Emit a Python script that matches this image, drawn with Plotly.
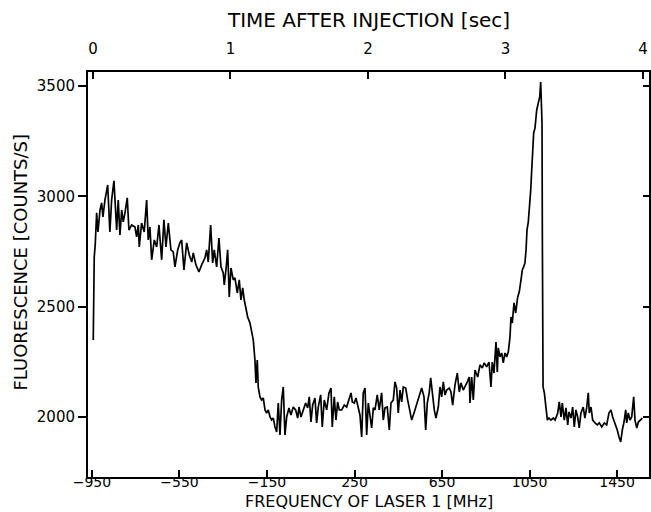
import plotly.graph_objects as go

# Fluorescence vs laser frequency
freq_mhz = [
    -944, -939.5, -935, -928.5, -922.6, -913, -905.7, -899.7, -890.6, -878, -868, -860, -849.4,
    -841.7, -837, -829.8, -822, -814, -807, -799, -788.6, -781, -768.5, -753.4, -745.7, -738,
    -733.8, -723, -711, -700, -692.6, -685, -677, -665, -654, -643.7, -631.4, -621, -611.7,
    -601, -589, -578.4, -570.6, -558, -548, -540, -529.5, -517, -505, -494, -487, -474.6, -461,
    -448.6, -433.5, -425.7, -418.4, -407.4, -398.3, -391, -380, -369.5, -360.3, -349.8, -345.3,
    -337.5, -329.7, -322.4, -314.6, -304, -296.3, -285.8, -276.7, -269, -261, -253.8, -246,
    -238.3, -227.8, -220, -212.7, -205, -200.4, -194.4, -190, -182, -174.3, -167, -159, -151.4,
    -144, -136, -128.6, -121, -113.5, -105.7, -98.4, -90.6, -83, -75.6, -67.8, -60, -49.5,
    -40.4, -30, -19, -9.7, -3.8, 5.4, 16, 26.8, 36, 43.3, 51, 58.8, 69.3, 77, 84.4, 95.4, 102.7,
    111.8, 122.8, 133.3, 142.5, 148.4, 157.5, 165.3, 173, 180.4, 191.4, 203.3, 214.2, 224.8,
    234, 240, 249, 256.8, 264.5, 275, 282.8, 290, 298, 305.7, 313, 320, 328.5, 336, 343.6, 354,
    363, 374, 381.5, 389.3, 399.8, 409, 416.7, 427.3, 435, 442.8, 450, 458, 465.6, 473, 484,
    493, 500.4, 511.4, 522, 534, 546, 557, 567.6, 575.4, 582.7, 591.8, 598.3, 607.4, 614.7,
    622.4, 633, 640.7, 648.5, 655.8, 663.6, 671.4, 683.2, 691, 698.8, 709.3, 719.8, 729, 736.7,
    747.2, 755, 765.5, 774.6, 777.8, 785.6, 793, 800.7, 813, 823.5, 834, 843, 854, 864.7,
    873.8, 879.7, 887.5, 896.7, 902.6, 907, 915, 922.6, 930, 937.8, 945.5, 953, 960.7, 965.3,
    971.2, 979, 986.7, 995.9, 1003, 1011, 1017, 1023, 1029, 1034, 1038.4, 1044.4, 1049, 1055.5,
    1060, 1064.6, 1069, 1075, 1082.9, 1090, 1096.6, 1101, 1104, 1107, 1108.6, 1110.4, 1111.8,
    1117.7, 1124, 1131.5, 1139, 1148, 1158.8, 1166.5, 1178.8, 1186, 1193.8, 1199.7, 1208.9,
    1216.6, 1224.4, 1230.3, 1239.5, 1247, 1254.5, 1262, 1270, 1277, 1285, 1295.5, 1303, 1311,
    1318.5, 1323, 1330.9, 1338.6, 1349, 1359.7, 1368.8, 1379.8, 1391.6, 1402.6, 1413, 1422,
    1430, 1440.6, 1451, 1458.9, 1466.6, 1474, 1481.8, 1489.6, 1494, 1501.4, 1509, 1517, 1526,
    1532, 1540, 1547.4, 1555, 1565.6,
]

counts_per_s = [
    2349, 2725, 2779, 2925, 2838, 2938, 2970, 2906, 2983, 3051, 2838, 2983, 3070,
    2952, 2847, 2983, 2825, 2938, 2884, 2925, 2993, 2847, 2870, 2861, 2816, 2870,
    2770, 2879, 2838, 2983, 2802, 2861, 2712, 2802, 2770, 2870, 2712, 2893, 2770,
    2879, 2757, 2748, 2680, 2757, 2789, 2802, 2666, 2789, 2734, 2702, 2743, 2689, 2657,
    2689, 2721, 2757, 2702, 2870, 2698, 2757, 2680, 2811, 2680, 2653, 2598,
    2666, 2757, 2544, 2675, 2621, 2630, 2562, 2621, 2530, 2585, 2530, 2498,
    2453, 2426, 2385, 2349, 2258, 2154, 2258, 2136, 2091, 2077, 2086, 2032, 2018,
    2032, 2000, 1986, 1995, 1955, 1932, 2063, 1918, 2077, 2136, 1918, 2000, 2041,
    2009, 2045, 2032, 1995, 2045, 2000, 2032, 2063, 2041, 2091, 1977, 2054, 2086, 1973, 2045, 2100, 1955,
    2077, 2032, 2109, 2131, 1955, 2091, 1986, 2068, 2032, 2032, 2054, 2045, 2077,
    2109, 2068, 2063, 2086, 2054, 2009, 1909, 2109, 2131, 1918, 2063, 2018, 1950, 2041, 2032, 2100,
    2032, 2109, 1986, 2041, 2045, 1941, 2063, 2077, 2159, 2131, 2018, 2122, 2068, 2136, 2131,
    2077, 2032, 1986, 2018, 2054, 2100, 2131, 2091, 1941, 2063, 2113, 2177, 2091, 2032,
    1995, 2045, 2136, 2091, 2159, 2100, 2122, 2131, 2113, 2054, 2145, 2199, 2113, 2154,
    2122, 2136, 2159, 2181, 2063, 2181, 2077, 2213, 2181, 2236, 2222, 2245, 2227, 2249,
    2136, 2249, 2199, 2340, 2204, 2313, 2272, 2290, 2245, 2290, 2272, 2295, 2363, 2453,
    2426, 2517, 2471, 2544, 2566, 2621, 2666, 2680, 2698, 2757, 2847, 2884, 2938, 3029,
    3119, 3196, 3287, 3310, 3391, 3423, 3450, 3518, 3437, 3332, 2816, 2363, 2136,
    2109, 2045, 1986, 1995, 1986, 1995, 1986, 2018, 2068, 2000, 2063, 1986,
    2041, 1964, 2023, 1995, 2045, 1955, 2032, 2000, 1950, 2018, 2045, 1995, 2041,
    2109, 2018, 2045, 1986, 1973, 1964, 1973, 1955, 1973, 1964, 2018, 2032,
    2000, 1973, 1941, 1909, 1887, 1941, 1977, 2032, 1973, 2018, 1986, 2000, 2091,
    1986, 1950, 1977, 1986, 1995,
]

freq_ticks = [-950, -550, -150, 250, 650, 1050, 1450]
time_ticks = [0, 1, 2, 3, 4]
count_ticks = [2000, 2500, 3000, 3500]

FREQ_RANGE = [-968, 1596]
TIME_RANGE = [-0.036, 4.044]
COUNT_RANGE = [1728, 3563]

FONT = "DejaVu Sans, Verdana, sans-serif"

fig = go.Figure()
fig.add_trace(go.Scatter(
    x=freq_mhz, y=counts_per_s, mode="lines",
    line=dict(color="black", width=1.7), showlegend=False, hoverinfo="skip",
))
# helper trace so the top/right axes are drawn
fig.add_trace(go.Scatter(
    x=[None], y=[None], xaxis="x2", yaxis="y2", mode="lines",
    showlegend=False, hoverinfo="skip",
))

axis_common = dict(showgrid=False, zeroline=False, showline=True, linecolor="black",
                   linewidth=2, tickcolor="black", tickwidth=1.5)

fig.update_layout(
    width=651, height=512,
    margin=dict(l=88, r=2, t=72, b=35),
    paper_bgcolor="white", plot_bgcolor="white",
    font=dict(family=FONT, color="black", size=15),
    xaxis=dict(range=FREQ_RANGE, tickvals=freq_ticks, ticks="inside", ticklen=7,
               ticklabelstandoff=-9, tickfont=dict(size=14), **axis_common),
    yaxis=dict(range=COUNT_RANGE, tickvals=count_ticks, ticks="outside", ticklen=8,
               tickfont=dict(size=15), **axis_common),
    xaxis2=dict(range=TIME_RANGE, tickvals=time_ticks, overlaying="x", side="top",
                anchor="y", ticks="inside", ticklen=7, ticklabelstandoff=10,
                tickfont=dict(size=15), **axis_common),
    yaxis2=dict(range=COUNT_RANGE, tickvals=count_ticks, overlaying="y", side="right",
                anchor="x", ticks="inside", ticklen=6, showticklabels=False, **axis_common),
    annotations=[
        dict(text="TIME AFTER INJECTION [sec]", xref="paper", yref="paper", x=0.5, y=1,
             yshift=52, xanchor="center", yanchor="middle", showarrow=False,
             font=dict(size=20)),
        dict(text="FREQUENCY OF LASER 1 [MHz]", xref="paper", yref="paper", x=0.5, y=0,
             yshift=-35, xanchor="center", yanchor="bottom", showarrow=False,
             borderpad=0, font=dict(size=16)),
        dict(text="FLUORESCENCE [COUNTS/S]", xref="paper", yref="paper", x=0, y=0.5,
             xshift=-68, yshift=12, xanchor="center", yanchor="middle", showarrow=False,
             textangle=-90, font=dict(size=18)),
    ],
)

fig.write_html("out.html", config={"displayModeBar": False},
               post_script="document.body.style.margin='0';")
